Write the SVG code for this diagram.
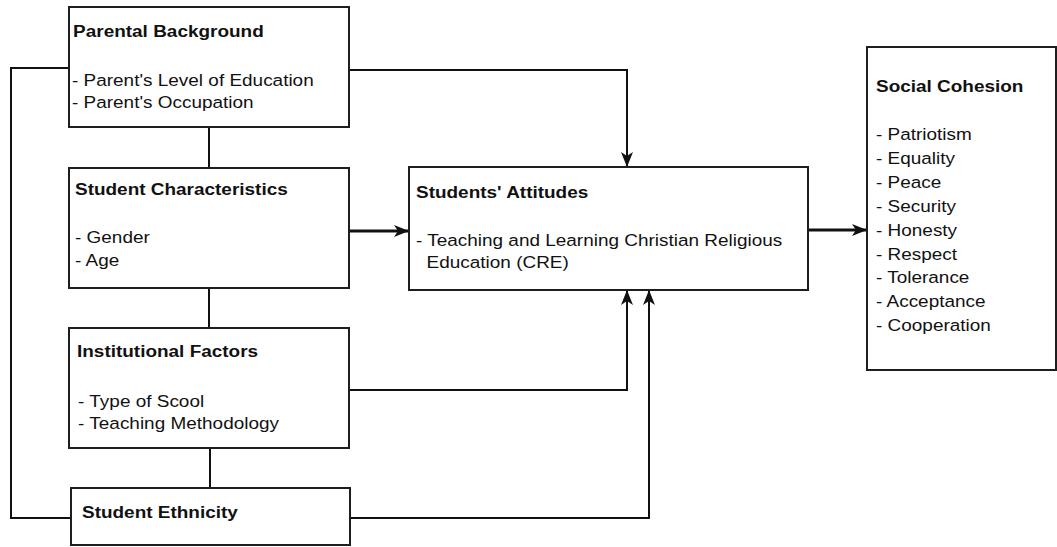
<svg xmlns="http://www.w3.org/2000/svg" width="1057" height="547" viewBox="0 0 1057 547">
<style>
.box{fill:#fff;stroke:#1e1e1e;stroke-width:2}
.t{font-family:"Liberation Sans",Arial,sans-serif;font-size:17px;fill:#111}
.b{font-weight:bold}
.c{fill:none;stroke:#111;stroke-width:2}
.k{fill:none;stroke:#111;stroke-width:3}
</style>
<defs>
<marker id="ah" markerUnits="userSpaceOnUse" markerWidth="16" markerHeight="12" viewBox="0 0 16 12" refX="15" refY="6" orient="auto">
<path d="M0,0 L15,6 L0,12 L4,6 z" fill="#111"/>
</marker>
</defs>
<rect x="0" y="0" width="1057" height="547" fill="#fff"/>
<g id="connectors">
<path class="c" d="M349,70 H627 V167" marker-end="url(#ah)"/>
<path class="c" d="M209,127 V168"/>
<path class="c" d="M209,288 V328"/>
<path class="c" d="M210,448 V488"/>
<path class="c" d="M69,68 H11 V518 H71"/>
<path class="k" d="M349,231 H409" marker-end="url(#ah)"/>
<path class="c" d="M349,390 H627 V290" marker-end="url(#ah)"/>
<path class="c" d="M350,518 H649 V290" marker-end="url(#ah)"/>
<path class="k" d="M808,230 H867" marker-end="url(#ah)"/>
</g>
<g id="parental-background">
<rect class="box" x="69" y="7" width="280" height="120"/>
<g transform="translate(72 0) scale(1.115 1)">
<text class="t b" x="1" y="37">Parental Background</text>
<text class="t" x="0" y="86">- Parent's Level of Education</text>
<text class="t" x="0" y="108">- Parent's Occupation</text>
</g>
</g>
<g id="student-characteristics">
<rect class="box" x="69" y="168" width="280" height="120"/>
<g transform="translate(75 0) scale(1.115 1)">
<text class="t b" x="0" y="195">Student Characteristics</text>
<text class="t" x="0" y="243">- Gender</text>
<text class="t" x="0" y="266">- Age</text>
</g>
</g>
<g id="institutional-factors">
<rect class="box" x="69" y="328" width="280" height="120"/>
<g transform="translate(77 0) scale(1.115 1)">
<text class="t b" x="0" y="357">Institutional Factors</text>
<text class="t" x="1" y="407">- Type of Scool</text>
<text class="t" x="1" y="429">- Teaching Methodology</text>
</g>
</g>
<g id="student-ethnicity">
<rect class="box" x="71" y="488" width="279" height="57"/>
<g transform="translate(82 0) scale(1.115 1)">
<text class="t b" x="0" y="518">Student Ethnicity</text>
</g>
</g>
<g id="students-attitudes">
<rect class="box" x="409" y="167" width="399" height="123"/>
<g transform="translate(416 0) scale(1.115 1)">
<text class="t b" x="0" y="198">Students' Attitudes</text>
<text class="t" x="0" y="246">- Teaching and Learning Christian Religious</text>
<text class="t" x="9.5" y="268">Education (CRE)</text>
</g>
</g>
<g id="social-cohesion">
<rect class="box" x="867" y="47" width="189" height="323"/>
<g transform="translate(876 0) scale(1.115 1)">
<text class="t b" x="0" y="92">Social Cohesion</text>
<text class="t" x="0" y="140">- Patriotism</text>
<text class="t" x="0" y="164">- Equality</text>
<text class="t" x="0" y="188">- Peace</text>
<text class="t" x="0" y="212">- Security</text>
<text class="t" x="0" y="236">- Honesty</text>
<text class="t" x="0" y="260">- Respect</text>
<text class="t" x="0" y="283.5">- Tolerance</text>
<text class="t" x="0" y="307">- Acceptance</text>
<text class="t" x="0" y="331">- Cooperation</text>
</g>
</g>
</svg>
